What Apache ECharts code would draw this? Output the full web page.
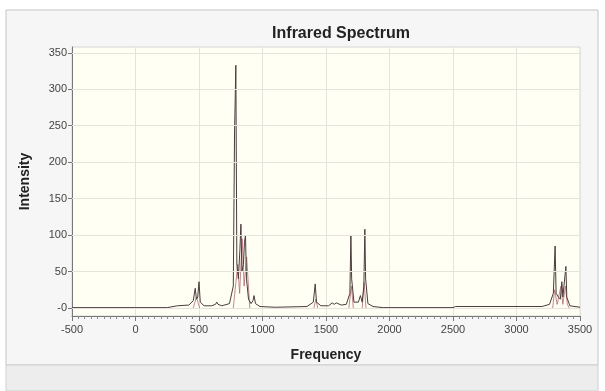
<!DOCTYPE html>
<html>
<head>
<meta charset="utf-8">
<script src="https://cdn.jsdelivr.net/npm/echarts@6/dist/echarts.min.js"></script>
<style>
  html, body { margin: 0; padding: 0; background: #ffffff; }
  #chart { width: 605px; height: 391px; }
</style>
</head>
<body>
<div id="chart"></div>
<script>
// spectrum trace (frequency, intensity)
const freq = [-500, 250, 330, 420, 455, 470, 480, 490, 500, 510, 540, 600, 630, 640, 650, 680,
  740, 770, 780, 790, 798, 810, 822, 830, 838, 850, 858, 866, 874, 890, 910, 925, 933, 945,
  980, 1100, 1350, 1400, 1415, 1425, 1460, 1520, 1549, 1565, 1581, 1620, 1660, 1688, 1696,
  1702, 1720, 1755, 1771, 1785, 1798, 1806, 1812, 1830, 1870, 1950, 2500, 2520, 3200, 3260,
  3290, 3304, 3312, 3330, 3345, 3357, 3365, 3380, 3389, 3396, 3420, 3500];
const intensity = [0.5, 0.5, 3, 4, 10, 27, 12, 15, 36, 8, 3, 3, 5, 8, 5, 3,
  6, 30, 240, 333, 60, 40, 80, 115, 50, 60, 90, 100, 40, 12, 6, 10, 17, 6,
  2, 1, 2, 8, 33, 8, 3, 3, 7, 5, 7, 4, 5, 20, 100,
  40, 8, 8, 17, 8, 30, 108, 40, 6, 2, 0.5, 0.5, 2, 2, 5,
  20, 85, 20, 15, 12, 36, 15, 15, 57, 15, 3, 1];

// reddish component traces near the peak groups (null = gap)
const compFreq = [455, 480, 505, null, 770, 805, 820, 840, 855, 875, 900, null, 1405, 1420, 1435, null,
  1680, 1700, 1715, null, 1785, 1800, 1815, null, 3285, 3300, 3320, 3350, 3365, 3385, 3400, 3415];
const compInt = [0, 15, 0, null, 0, 60, 20, 95, 30, 70, 0, null, 0, 12, 0, null,
  0, 30, 0, null, 0, 35, 0, null, 0, 25, 5, 30, 5, 30, 5, 0];

const xTicks = [-500, 0, 500, 1000, 1500, 2000, 2500, 3000, 3500];
const yTicks = [0, 50, 100, 150, 200, 250, 300, 350];

const spectrum = freq.map((f, i) => [f, intensity[i]]);
const components = compFreq.map((f, i) => (f === null ? [null, null] : [f, compInt[i]]));

const chart = echarts.init(document.getElementById('chart'), null, { renderer: 'canvas' });

const option = {
  animation: false,
  backgroundColor: '#ffffff',
  graphic: [
    {
      type: 'rect', z: -10, silent: true,
      shape: { x: 6, y: 10, width: 592, height: 355 },
      style: { fill: '#f6f6f6', stroke: '#c4c4c4', lineWidth: 1 }
    },
    {
      type: 'rect', z: -10, silent: true,
      shape: { x: 6, y: 365, width: 592, height: 26 },
      style: { fill: '#ededed', stroke: '#d0d0d0', lineWidth: 1 }
    }
  ],
  title: {
    text: 'Infrared Spectrum',
    left: 336,
    top: 21,
    textAlign: 'center',
    textStyle: {
      fontFamily: 'Liberation Sans',
      fontSize: 16,
      fontWeight: 'bold',
      color: '#222'
    }
  },
  grid: {
    left: 72,
    right: 25,
    top: 47,
    bottom: 75,
    show: true,
    backgroundColor: '#fffff3',
    borderColor: '#d6d6d6',
    borderWidth: 1
  },
  xAxis: {
    type: 'value',
    min: -500,
    max: 3500,
    interval: 500,
    name: 'Frequency',
    nameLocation: 'middle',
    nameGap: 32,
    nameTextStyle: { fontFamily: 'Liberation Sans', fontSize: 14, fontWeight: 'bold', color: '#222' },
    axisLine: { show: true, onZero: false, lineStyle: { color: '#777', width: 1 } },
    axisTick: { show: true, length: 5, lineStyle: { color: '#777' } },
    minorTick: { show: true, splitNumber: 10, length: 3, lineStyle: { color: '#888' } },
    axisLabel: {
      fontFamily: 'Liberation Sans', fontSize: 11, color: '#444', margin: 8,
      customValues: xTicks,
      formatter: (v) => String(v)
    },
    splitLine: { show: true, lineStyle: { color: '#e4e4dc', width: 1 } }
  },
  yAxis: {
    type: 'value',
    min: -11,
    max: 358,
    name: 'Intensity',
    nameLocation: 'middle',
    nameGap: 40,
    nameRotate: 90,
    nameTextStyle: { fontFamily: 'Liberation Sans', fontSize: 14, fontWeight: 'bold', color: '#222' },
    axisLine: { show: true, onZero: false, lineStyle: { color: '#777', width: 1 } },
    axisTick: { show: true, length: 4, customValues: yTicks, lineStyle: { color: '#777' } },
    axisLabel: {
      fontFamily: 'Liberation Sans', fontSize: 11, color: '#444', margin: 5,
      customValues: yTicks,
      formatter: (v) => (v === 0 ? '-0' : String(v))
    },
    splitLine: { show: false }
  },
  series: [
    {
      type: 'line',
      name: 'components',
      data: components,
      showSymbol: false,
      connectNulls: false,
      lineStyle: { color: '#b46a74', width: 1, opacity: 0.8 },
      z: 2
    },
    {
      type: 'line',
      name: 'spectrum',
      data: spectrum,
      showSymbol: false,
      lineStyle: { color: '#4a3c3c', width: 1 },
      z: 3,
      markLine: {
        silent: true,
        symbol: 'none',
        label: { show: false },
        lineStyle: { color: '#e4e4dc', width: 1, type: 'solid' },
        data: yTicks.map((v) => ({ yAxis: v }))
      }
    }
  ]
};

chart.setOption(option);
</script>
</body>
</html>
